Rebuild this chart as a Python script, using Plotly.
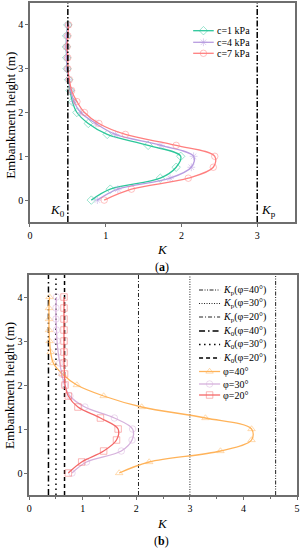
import plotly.graph_objects as go

# ---------------- data ----------------
heights = [0, 0.25, 0.5, 0.75, 1.0, 1.25, 1.5, 1.75, 2.0, 2.25, 2.5, 2.75, 3.0, 3.25, 3.5, 3.75, 4.0]

# panel (a): cohesion series
K_c1 = [0.81, 1.06, 1.72, 1.93, 1.99, 1.56, 1.02, 0.77, 0.62, 0.56, 0.53, 0.51, 0.49, 0.485, 0.48, 0.485, 0.50]
K_c4 = [0.89, 1.16, 1.85, 2.13, 2.16, 1.73, 1.13, 0.87, 0.67, 0.58, 0.54, 0.51, 0.49, 0.485, 0.48, 0.485, 0.50]
K_c7 = [0.98, 1.34, 2.09, 2.42, 2.44, 1.93, 1.26, 0.91, 0.72, 0.62, 0.55, 0.52, 0.50, 0.50, 0.49, 0.50, 0.51]
a_names = ["c=1 kPa", "c=4 kPa", "c=7 kPa"]
K0_a = 0.5
Kp_a = 3.0

# panel (b): friction angle series
K_p40 = [1.68, 2.24, 3.57, 4.15, 4.15, 3.29, 2.10, 1.39, 0.89, 0.62, 0.45, 0.40, 0.38, 0.37, 0.37, 0.37, 0.38]
K_p30 = [0.80, 1.07, 1.72, 1.92, 1.93, 1.59, 1.04, 0.76, 0.66, 0.61, 0.57, 0.54, 0.52, 0.51, 0.50, 0.50, 0.51]
K_p20 = [0.73, 0.98, 1.39, 1.63, 1.66, 1.33, 0.91, 0.73, 0.67, 0.66, 0.65, 0.65, 0.65, 0.65, 0.65, 0.65, 0.65]
b_names = ["φ=40°", "φ=30°", "φ=20°"]
Kp_b = [4.60, 3.00, 2.04]   # φ = 40, 30, 20
K0_b = [0.36, 0.50, 0.66]   # φ = 40, 30, 20
phi_labels = ["40", "30", "20"]

y_span = [-0.5, 4.5]

FONT = "Liberation Serif"
fig = go.Figure()

# ---------------- panel (a) ----------------
a_series = [K_c1, K_c4, K_c7]
a_colors = ["#2cc79a", "#b89ce0", "#ff7f7f"]
a_symbols = ["diamond-open", "asterisk-open", "circle-open"]
for vals, col, sym, nm in zip(a_series, a_colors, a_symbols, a_names):
    fig.add_trace(go.Scatter(x=vals, y=heights, mode="lines+markers", name=nm,
                             line=dict(color=col, width=1.3, shape="spline", smoothing=1.0),
                             marker=dict(symbol=sym, size=6.5, color=col, opacity=0.6, line=dict(width=0.8, color=col)),
                             xaxis="x", yaxis="y", showlegend=False))
for kv in [K0_a, Kp_a]:
    fig.add_trace(go.Scatter(x=[kv, kv], y=y_span, mode="lines",
                             line=dict(color="black", width=1.5, dash="6px,2px,1.5px,2px"),
                             xaxis="x", yaxis="y", showlegend=False, hoverinfo="skip"))

# ---------------- panel (b) ----------------
kp_dashes = ["4px,1.5px,1px,1.5px,1px,1.5px", "1px,1.5px", "4px,2px,1px,2px"]
k0_dashes = ["6px,3px,1.5px,3px", "1.5px,3.5px", "4px,3px"]
for kv, d in zip(Kp_b, kp_dashes):
    fig.add_trace(go.Scatter(x=[kv, kv], y=y_span, mode="lines",
                             line=dict(color="#222", width=1, dash=d),
                             xaxis="x2", yaxis="y2", showlegend=False, hoverinfo="skip"))
for kv, d in zip(K0_b, k0_dashes):
    fig.add_trace(go.Scatter(x=[kv, kv], y=y_span, mode="lines",
                             line=dict(color="black", width=1.5, dash=d),
                             xaxis="x2", yaxis="y2", showlegend=False, hoverinfo="skip"))

b_series = [K_p40, K_p30, K_p20]
b_colors = ["#ffb35a", "#d6b1dc", "#f46868"]
b_symbols = ["triangle-up-open", "circle-open", "square-open"]
for vals, col, sym, nm in zip(b_series, b_colors, b_symbols, b_names):
    fig.add_trace(go.Scatter(x=vals, y=heights, mode="lines+markers", name=nm,
                             line=dict(color=col, width=1.3, shape="spline", smoothing=1.0),
                             marker=dict(symbol=sym, size=6.5, color=col, opacity=0.6, line=dict(width=0.8, color=col)),
                             xaxis="x2", yaxis="y2", showlegend=False))

# ---------------- hand-drawn legends on a pixel overlay axis ----------------
annotations = []
def legend_entry(x0, x1, y, text, color, width, dash=None, symbol=None):
    fig.add_trace(go.Scatter(x=[x0, x1], y=[y, y], mode="lines",
                             line=dict(color=color, width=width, dash=dash or "solid"),
                             xaxis="x3", yaxis="y3", showlegend=False, hoverinfo="skip"))
    if symbol:
        fig.add_trace(go.Scatter(x=[(x0 + x1) / 2], y=[y], mode="markers",
                                 marker=dict(symbol=symbol, size=6.5, color=color, opacity=0.6,
                                             line=dict(width=0.8, color=color)),
                                 xaxis="x3", yaxis="y3", showlegend=False, hoverinfo="skip"))
    annotations.append(dict(x=x1 + 1, y=y, xref="x3", yref="y3", text=text, showarrow=False,
                            xanchor="left", yanchor="middle", font=dict(family=FONT, size=10, color="black")))

a_leg_y = [30.7, 42.3, 53.3]
for yy, nm, col, sym in zip(a_leg_y, a_names, a_colors, a_symbols):
    legend_entry(194, 215, yy, nm, col, 1.3, symbol=sym)

b_leg_y = [290, 303.5, 317, 331, 344.5, 358, 371.5, 384, 395]
idx = 0
for ph, d in zip(phi_labels, kp_dashes):
    legend_entry(200, 221.5, b_leg_y[idx], f"<i>K</i><sub>p</sub>(φ={ph}°)", "#222", 1, dash=d)
    idx += 1
for ph, d in zip(phi_labels, k0_dashes):
    legend_entry(200, 221.5, b_leg_y[idx], f"<i>K</i><sub>0</sub>(φ={ph}°)", "black", 1.5, dash=d)
    idx += 1
for nm, col, sym in zip(b_names, b_colors, b_symbols):
    legend_entry(200, 221.5, b_leg_y[idx], nm, col, 1.3, symbol=sym)
    idx += 1

# ---------------- text annotations ----------------
annotations += [
    dict(x=0.37, y=-0.24, xref="x", yref="y", text="<i>K</i><sub>0</sub>", showarrow=False,
         font=dict(family=FONT, size=13, color="black")),
    dict(x=3.15, y=-0.24, xref="x", yref="y", text="<i>K</i><sub>p</sub>", showarrow=False,
         font=dict(family=FONT, size=13, color="black")),
    dict(x=163, y=249, xref="x3", yref="y3", text="<i>K</i>", showarrow=False,
         font=dict(family=FONT, size=13, color="black")),
    dict(x=162, y=266.5, xref="x3", yref="y3", text="(<b>a</b>)", showarrow=False,
         font=dict(family=FONT, size=12, color="black")),
    dict(x=163, y=523, xref="x3", yref="y3", text="<i>K</i>", showarrow=False,
         font=dict(family=FONT, size=13, color="black")),
    dict(x=162, y=541, xref="x3", yref="y3", text="(<b>b</b>)", showarrow=False,
         font=dict(family=FONT, size=12, color="black")),
    dict(x=7, y=115, xref="x3", yref="y3", text="Embankment height (m)", showarrow=False, textangle=-90,
         font=dict(family=FONT, size=13, color="black")),
    dict(x=6, y=385, xref="x3", yref="y3", text="Embankment height (m)", showarrow=False, textangle=-90,
         font=dict(family=FONT, size=13, color="black")),
]

W, H = 303, 550
ax_common = dict(showgrid=False, zeroline=False, showline=True, linecolor="#6e6e6e", linewidth=1.5,
                 mirror=True, ticks="outside", ticklen=3, tickcolor="#6e6e6e", tickwidth=1,
                 tickfont=dict(family=FONT, size=10, color="black"))

fig.update_layout(
    width=W, height=H, margin=dict(l=0, r=0, t=0, b=0),
    paper_bgcolor="white", plot_bgcolor="rgba(0,0,0,0)", showlegend=False,
    xaxis=dict(domain=[27.5 / W, 298 / W], range=[0, 3.5], dtick=1, anchor="y", **ax_common),
    yaxis=dict(domain=[1 - 222 / H, 1 - 3 / H], range=[-0.5, 4.5], dtick=1, anchor="x", **ax_common),
    xaxis2=dict(domain=[26.7 / W, 300 / W], range=[0, 5], dtick=1, anchor="y2",
                minor=dict(dtick=0.5, ticks="outside", ticklen=2, tickcolor="#6e6e6e"), **ax_common),
    yaxis2=dict(domain=[1 - 495 / H, 1 - 275 / H], range=[-0.5, 4.5], dtick=1, anchor="x2", **ax_common),
    xaxis3=dict(domain=[0, 1], range=[0, W], visible=False, anchor="y3", fixedrange=True),
    yaxis3=dict(domain=[0, 1], range=[H, 0], visible=False, anchor="x3", fixedrange=True),
    annotations=annotations,
)

fig.write_html("out.html", config={"displayModeBar": False},
               post_script="document.body.style.margin='0';document.body.style.overflow='hidden';")
